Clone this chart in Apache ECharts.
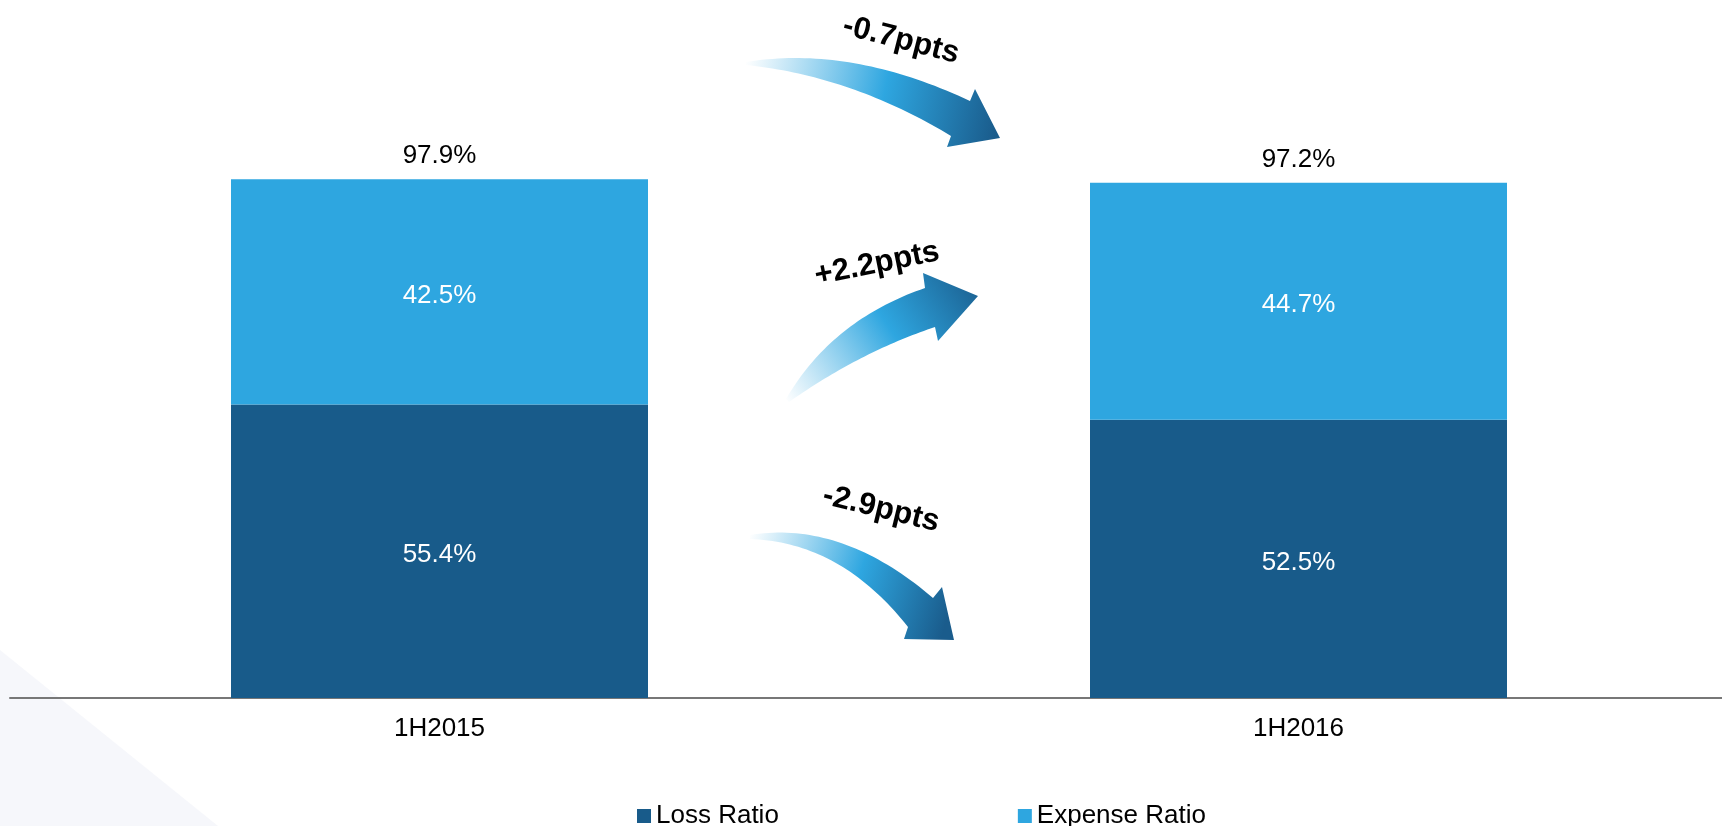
<!DOCTYPE html>
<html>
<head>
<meta charset="utf-8">
<style>
  html, body { margin: 0; padding: 0; background: #ffffff; }
  #chart { width: 1722px; height: 826px; }
</style>
<script src="https://cdn.jsdelivr.net/npm/echarts@6/dist/echarts.min.js"></script>
</head>
<body>
<div id="chart"></div>
<script>
// Combined ratio breakdown, half-year comparison
const periods = ['1H2015', '1H2016'];
const lossRatio = [55.4, 52.5];
const expenseRatio = [42.5, 44.7];
const changeLabels = ['-0.7ppts', '+2.2ppts', '-2.9ppts'];

const DARK = '#185B8A';
const LIGHT = '#2EA6E0';
const FONT = "'Liberation Sans', Arial, Helvetica, sans-serif";

// Samples a quadratic Bézier from p0 to p2 with control c
function quad(p0, c, p2, n) {
  const pts = [];
  for (let i = 0; i <= n; i++) {
    const t = i / n, u = 1 - t;
    pts.push([u * u * p0[0] + 2 * u * t * c[0] + t * t * p2[0],
              u * u * p0[1] + 2 * u * t * c[1] + t * t * p2[1]]);
  }
  return pts;
}

// Curved block arrow: tail -> upper edge -> head -> lower edge -> tail
function arrow(a, grad) {
  const upper = quad(a.tail, a.cu, a.shoulderU, 40);
  const lower = quad(a.shoulderL, a.cl, a.tailB, 40);
  const pts = upper.concat([a.headA, a.tip, a.headB], lower);
  return {
    type: 'polygon',
    z: 5,
    shape: { points: pts },
    style: {
      fill: new echarts.graphic.LinearGradient(grad[0], grad[1], grad[2], grad[3], [
        { offset: 0, color: 'rgba(255,255,255,0.9)' },
        { offset: 0.55, color: LIGHT },
        { offset: 1, color: '#1A5C8C' }
      ])
    }
  };
}

const arrows = [
  { tail: [746, 62], cu: [851, 45], shoulderU: [970, 101], headA: [975, 89], tip: [1000, 138],
    headB: [947, 147], shoulderL: [951, 136], cl: [852, 76], tailB: [746, 65] },
  { tail: [786, 399], cu: [832, 320], shoulderU: [925, 288], headA: [923, 273], tip: [978, 296],
    headB: [938, 341], shoulderL: [935, 327], cl: [860, 352], tailB: [789, 402] },
  { tail: [750, 535], cu: [842, 520], shoulderU: [933, 598], headA: [942, 587], tip: [954, 640],
    headB: [904, 639], shoulderL: [908, 627], cl: [841, 542], tailB: [750, 539] }
];
const grads = [[0, 0, 1, 0.6], [0, 1, 1, 0], [0, 0, 1, 0.6]];
const labelPos = [[901, 40, -0.25], [877, 264, 0.2], [881, 509, -0.24]];

const graphics = [
  {
    type: 'polygon', z: -1, silent: true,
    shape: { points: [[0, 650], [0, 826], [218, 826]] },
    style: { fill: 'rgba(222,228,242,0.28)' }
  }
];
arrows.forEach((a, i) => graphics.push(arrow(a, grads[i])));
changeLabels.forEach((t, i) => graphics.push({
  type: 'text', z: 6,
  x: labelPos[i][0], y: labelPos[i][1], rotation: labelPos[i][2],
  style: {
    text: t, fill: '#000', fontSize: 31, fontWeight: 'bold', fontFamily: FONT,
    textAlign: 'center', textVerticalAlign: 'middle'
  }
}));

const totals = periods.map((_, i) => lossRatio[i] + expenseRatio[i]);

const chart = echarts.init(document.getElementById('chart'), null, { renderer: 'canvas' });
chart.setOption({
  animation: false,
  backgroundColor: '#ffffff',
  textStyle: { fontFamily: FONT },
  grid: { left: 10, top: 168, width: 1718, height: 530, outerBoundsMode: 'none' },
  legend: {
    left: 632, top: 798,
    itemWidth: 14, itemHeight: 14, itemGap: 239,
    icon: 'rect',
    textStyle: { fontSize: 26, color: '#000' },
    data: ['Loss Ratio', 'Expense Ratio']
  },
  xAxis: {
    type: 'category',
    data: periods,
    axisLine: { lineStyle: { color: '#777', width: 2 } },
    axisTick: { show: false },
    axisLabel: { fontSize: 26, color: '#000', margin: 18 }
  },
  yAxis: {
    type: 'value', min: 0, max: 100,
    show: false
  },
  series: [
    {
      name: 'Loss Ratio', type: 'bar', stack: 'ratio',
      data: lossRatio, barWidth: 417,
      itemStyle: { color: DARK },
      label: { show: true, position: 'inside', offset: [0, 4], color: '#fff', fontSize: 26,
               formatter: p => p.value.toFixed(1) + '%' }
    },
    {
      name: 'Expense Ratio', type: 'bar', stack: 'ratio',
      data: expenseRatio, barWidth: 417,
      itemStyle: { color: LIGHT },
      label: { show: true, position: 'inside', offset: [0, 4], color: '#fff', fontSize: 26,
               formatter: p => p.value.toFixed(1) + '%' }
    },
    {
      // stack total label above each column
      name: 'Total', type: 'bar', stack: 'ratio',
      data: periods.map(() => 0), barWidth: 417,
      itemStyle: { color: 'transparent' },
      label: { show: true, position: 'top', distance: 10, color: '#000', fontSize: 26,
               formatter: p => totals[p.dataIndex].toFixed(1) + '%' },
      tooltip: { show: false }
    }
  ],
  graphic: graphics
});
</script>
</body>
</html>
